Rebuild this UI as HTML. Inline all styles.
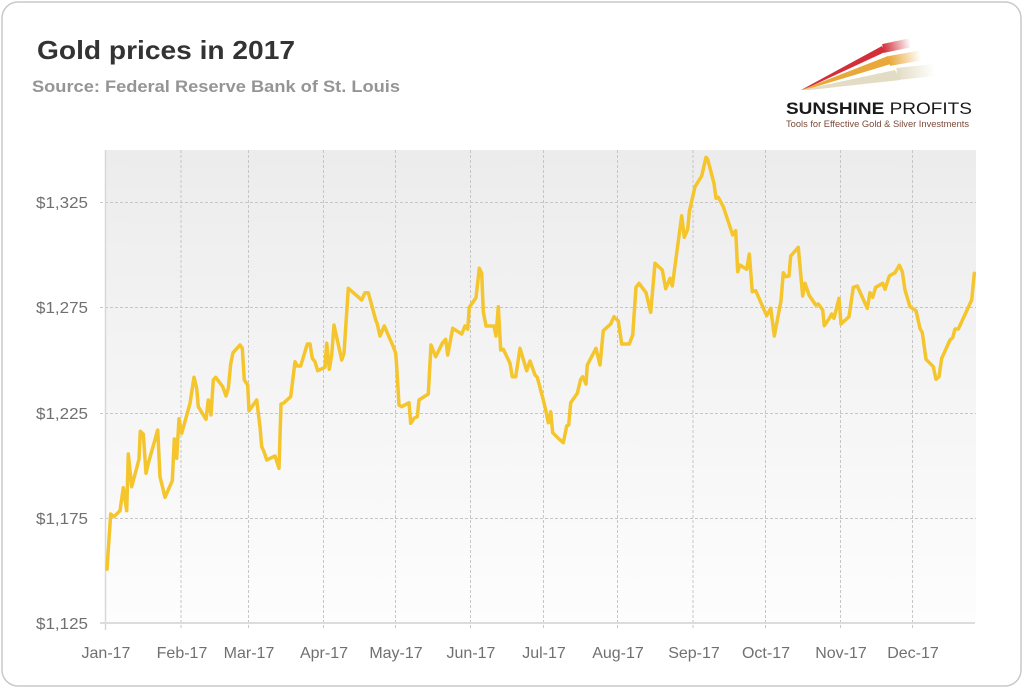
<!DOCTYPE html>
<html>
<head>
<meta charset="utf-8">
<style>
  html, body { margin:0; padding:0; background:#ffffff; }
  body { width:1024px; height:688px; overflow:hidden; }
  svg { display:block; }
</style>
</head>
<body>
<svg width="1024" height="688" viewBox="0 0 1024 688" xmlns="http://www.w3.org/2000/svg">
  <defs>
    <linearGradient id="bg" x1="0" y1="0" x2="0" y2="1">
      <stop offset="0" stop-color="#ececec"/>
      <stop offset="1" stop-color="#fdfdfd"/>
    </linearGradient>
    <linearGradient id="fadeR" x1="0" y1="0" x2="1" y2="0">
      <stop offset="0" stop-color="#d22f3a" stop-opacity="1"/>
      <stop offset="1" stop-color="#d22f3a" stop-opacity="0"/>
    </linearGradient>
    <linearGradient id="fadeO" x1="0" y1="0" x2="1" y2="0">
      <stop offset="0" stop-color="#e9a83a" stop-opacity="1"/>
      <stop offset="1" stop-color="#e9a83a" stop-opacity="0"/>
    </linearGradient>
    <linearGradient id="fadeB" x1="0" y1="0" x2="1" y2="0">
      <stop offset="0" stop-color="#e2dcc4" stop-opacity="1"/>
      <stop offset="1" stop-color="#e2dcc4" stop-opacity="0"/>
    </linearGradient>
  </defs>

  <!-- card -->
  <rect x="2" y="2" width="1019" height="684" rx="16" ry="16" fill="#ffffff" stroke="#c9c9c9" stroke-width="1.5"/>

  <!-- title -->
  <text x="37" y="59" font-family="'Liberation Sans', sans-serif" font-weight="bold" font-size="26" fill="#333333" textLength="258" lengthAdjust="spacingAndGlyphs">Gold prices in 2017</text>
  <text x="32" y="92" font-family="'Liberation Sans', sans-serif" font-weight="bold" font-size="17" fill="#959595" textLength="368" lengthAdjust="spacingAndGlyphs">Source: Federal Reserve Bank of St. Louis</text>

  <!-- logo -->
  <g>
    <polygon points="801,90 882,46 885,52 803,90" fill="#d22f3a"/>
    <rect x="883" y="44" width="28" height="9" fill="url(#fadeR)" transform="rotate(-12 883 48)"/>
    <polygon points="801,90 888,56 891,64 805,90" fill="#e9a83a"/>
    <rect x="889" y="56" width="32" height="10" fill="url(#fadeO)" transform="rotate(-10 889 60)"/>
    <polygon points="801,90 895,70 900,80 810,90" fill="#e2dcc4"/>
    <rect x="897" y="68" width="38" height="12" fill="url(#fadeB)" transform="rotate(-6 897 74)"/>
    <text x="786" y="114" font-family="'Liberation Sans', sans-serif" font-size="17" fill="#1a1a1a" textLength="186" lengthAdjust="spacingAndGlyphs"><tspan font-weight="bold">SUNSHINE</tspan> PROFITS</text>
    <text x="786" y="127" font-family="'Liberation Sans', sans-serif" font-size="9.5" fill="#7a4a3a" textLength="183" lengthAdjust="spacingAndGlyphs">Tools for Effective Gold &amp; Silver Investments</text>
  </g>

  <!-- plot background -->
  <rect x="105" y="150" width="871" height="473" fill="url(#bg)"/>

  <!-- horizontal gridlines -->
  <g stroke="#c6c6c6" stroke-width="1" stroke-dasharray="3,2" fill="none">
    <line x1="100" y1="202.5" x2="976" y2="202.5"/>
    <line x1="100" y1="307.5" x2="976" y2="307.5"/>
    <line x1="100" y1="413.5" x2="976" y2="413.5"/>
    <line x1="100" y1="518.5" x2="976" y2="518.5"/>
  </g>
  <!-- vertical gridlines -->
  <g stroke="#c6c6c6" stroke-width="1" stroke-dasharray="3,2" fill="none">
    <line x1="181" y1="150" x2="181" y2="630"/>
    <line x1="248.5" y1="150" x2="248.5" y2="630"/>
    <line x1="323.5" y1="150" x2="323.5" y2="630"/>
    <line x1="395.5" y1="150" x2="395.5" y2="630"/>
    <line x1="470.5" y1="150" x2="470.5" y2="630"/>
    <line x1="543.5" y1="150" x2="543.5" y2="630"/>
    <line x1="617.5" y1="150" x2="617.5" y2="630"/>
    <line x1="693" y1="150" x2="693" y2="630"/>
    <line x1="765.5" y1="150" x2="765.5" y2="630"/>
    <line x1="840.5" y1="150" x2="840.5" y2="630"/>
    <line x1="912.5" y1="150" x2="912.5" y2="630"/>
  </g>
  <!-- axes -->
  <line x1="105.5" y1="150" x2="105.5" y2="630" stroke="#d8d8d8" stroke-width="1.5"/>
  <line x1="100" y1="623" x2="975" y2="623" stroke="#dcdcdc" stroke-width="2"/>

  <!-- y labels -->
  <g font-family="'Liberation Sans', sans-serif" font-size="16" fill="#707070" text-anchor="end">
    <text x="88" y="208" textLength="52" lengthAdjust="spacingAndGlyphs">$1,325</text>
    <text x="88" y="313" textLength="52" lengthAdjust="spacingAndGlyphs">$1,275</text>
    <text x="88" y="419" textLength="52" lengthAdjust="spacingAndGlyphs">$1,225</text>
    <text x="88" y="524" textLength="52" lengthAdjust="spacingAndGlyphs">$1,175</text>
    <text x="88" y="629" textLength="52" lengthAdjust="spacingAndGlyphs">$1,125</text>
  </g>

  <!-- x labels -->
  <g font-family="'Liberation Sans', sans-serif" font-size="16" fill="#707070" text-anchor="middle">
    <text x="106" y="658">Jan-17</text>
    <text x="182" y="658">Feb-17</text>
    <text x="249" y="658">Mar-17</text>
    <text x="324" y="658">Apr-17</text>
    <text x="396" y="658">May-17</text>
    <text x="471" y="658">Jun-17</text>
    <text x="544" y="658">Jul-17</text>
    <text x="618" y="658">Aug-17</text>
    <text x="694" y="658">Sep-17</text>
    <text x="766" y="658">Oct-17</text>
    <text x="841" y="658">Nov-17</text>
    <text x="913" y="658">Dec-17</text>
  </g>

  <!-- series -->
  <polyline fill="none" stroke="#f4c52c" stroke-width="3.5" stroke-linejoin="round" stroke-linecap="round" points="
107,569.3 110.7,514 114,516.7 120,510.7 123.3,487.7 126.7,510.7 128.3,454 131.7,486.7 139,459.3 140.3,431.3
143.3,434 146,473.3 148.3,463.3 157.7,430 160,476.7 165,497.3 172.3,480.7 174.3,439 176.7,458.3 179,418.7
181.7,433.3 190,403.3 194,377.3 196.7,388.3 198.3,406.7 206,419.3 208.3,400 211,415 213.3,380 215.7,377.3
222.7,386.7 226,396 228.3,388.3 230.7,364 233,352.7 240,345 242.3,348.3 244.3,380 247.7,385 249,410.7
256.7,400 260,426.7 261.7,446.7 264,451.7 266.7,460 275,456 279,468.3 281,404 283.3,403.3 290.7,396.7
295,361.7 297.3,366 300.7,366 307.3,344 310,344 312.3,358.3 315,361.7 317.7,370.7 325,367.3 326.7,343.3
329.3,369.3 331.7,355 334,325 341.7,360 344,353.3 348.3,288.3 361.7,300 365,292.7 368.3,292.7 375.7,320
377.3,324 380,336 384.3,326 393.3,346.7 395.7,353.3 396.7,366.7 399,405 401.7,406.7 409,402.7 410.7,423.3
414,418.3 417.3,416.7 419,400 428.3,394 431,345 435.7,356.7 442.3,343.3 445.7,339.3 447.7,355 452.7,328.3
461.7,334 465,326 467.7,329.3 469.3,307.3 476,297.7 479.3,268.3 481.7,273.3 483.3,311.7 486,326 494,326
496,336 498.3,306.7 500.7,350 503.3,349.3 510,363.3 512.3,376.7 515.7,376.7 520,348.3 526.7,370.7 530,361
535,375 537.3,377.3 543.3,400 545.7,410 548.3,422.7 550.7,411.7 552.7,432.7 558.3,438.3 563.3,442.7 566.7,426
568.7,425 570.7,402.7 577.3,393.3 580.7,379.3 582.7,376.7 586,384 587.3,365 596,348.3 600,365 603.3,330.7
610.7,324 614,316.7 618.3,321 621.7,344 629.3,344 632.7,335 636,287.3 639,283.3 646,292.7 650.7,312.3
655,263.3 662.3,270 665.7,288.7 670,278.3 672.3,286 681.7,215.7 684.3,237.3 687.7,229.3 689.3,211.7 695,186.7
701.7,176 706,157.3 707.7,159.3 714,183.3 716,198.3 718.3,197.3 723.3,206.7 732.7,235 735.7,230.7 737.7,271.7
740,265 746.7,269.3 749.3,254 752.3,291.7 755.7,290.7 766.7,315.7 770.7,308.3 774.3,336 781,300.7 783.3,272.7
785.7,276.7 789,276 790.7,256 798.3,247.3 802.7,296 805,283.3 809,295 815.7,305 818.3,304 822.7,310
824.3,325.7 829.3,318.3 831.7,314 834,318.3 839,298.3 841,324 849,316.7 853.3,287.3 857.3,286 867.3,308.3
870,292.7 872.7,297.3 875.7,287.3 882.7,283.3 885,289.3 889.3,276 895,272.7 899.3,265.3 902.3,271.7 905,290
910,306.7 916,310.7 920,328.3 922.3,332.7 926,359.3 933.3,366.7 936,379.3 939,376.7 941.7,358.3 950,340
952.7,337.7 955,329 958.3,329 971.7,300 974.3,273.3"/>
</svg>
</body>
</html>
